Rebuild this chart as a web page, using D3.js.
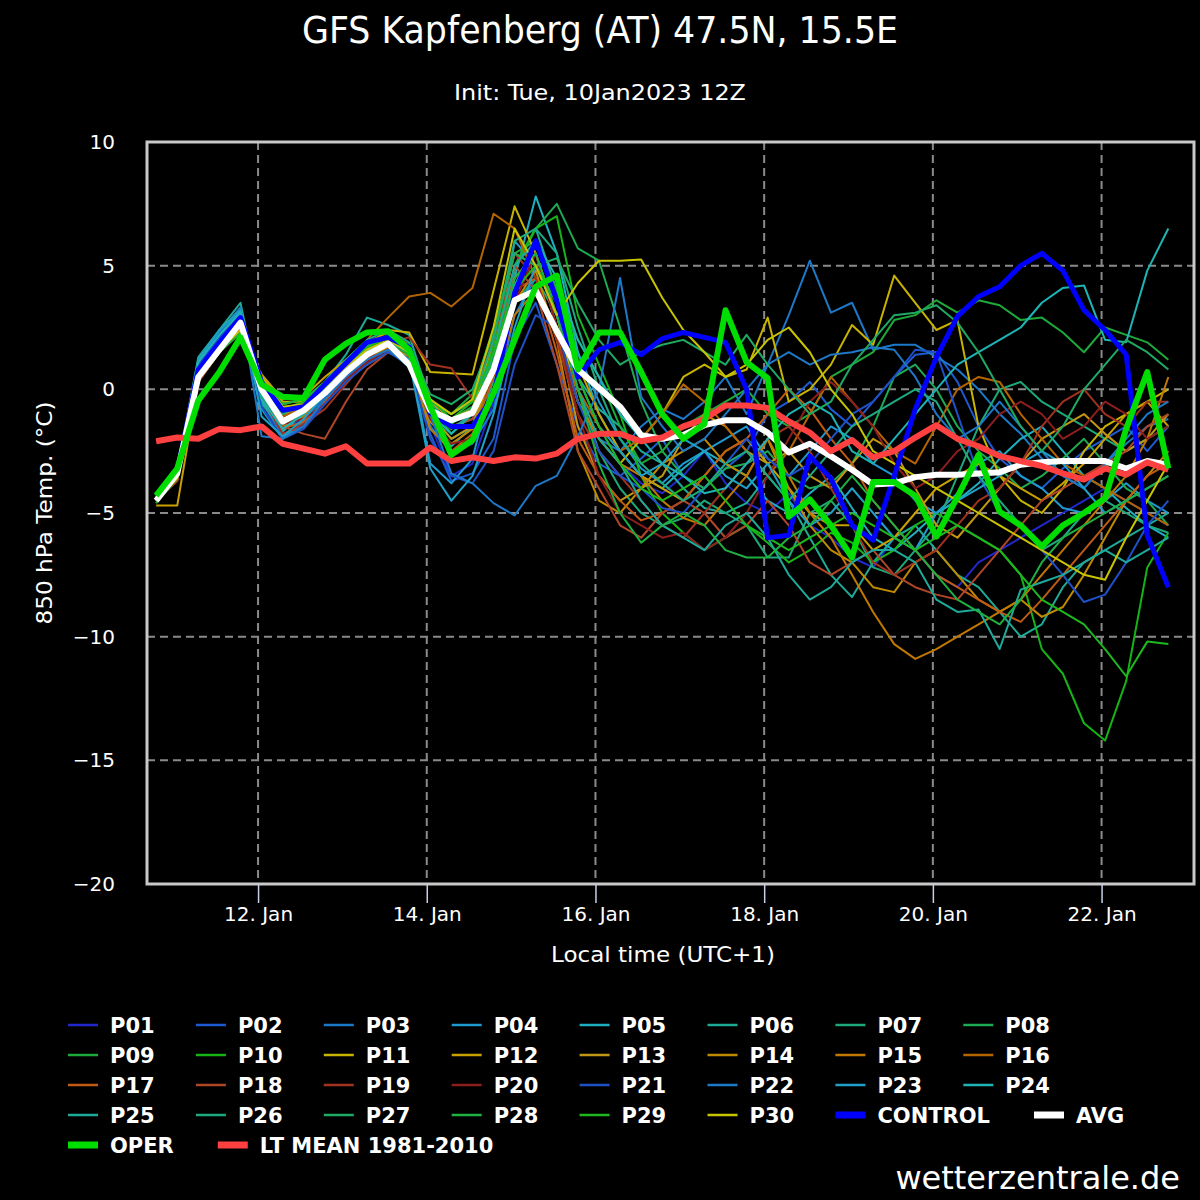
<!DOCTYPE html>
<html>
<head>
<meta charset="utf-8">
<script src="https://d3js.org/d3.v7.min.js"></script>
<style>
  body { margin: 0; background: #000; }
  text { font-family: "DejaVu Sans", sans-serif; fill: #fff; }
</style>
</head>
<body>
<svg id="chart" width="1200" height="1200"></svg>
<script>
// 6-hourly steps, first value 10 Jan 19:00 local (init 12Z + 6h)
const startLocal = Date.UTC(2023, 0, 10, 19);
const stepHours = 6;
const tickDays = [12, 14, 16, 18, 20, 22];
const yTicks = [-20, -15, -10, -5, 0, 5, 10];

const ltMean = [-2.1,-1.95,-2.0,-1.6,-1.65,-1.5,-2.2,-2.4,-2.6,-2.3,-3.0,-3.0,-3.0,-2.35,-2.9,-2.75,-2.9,-2.75,-2.8,-2.6,-2.0,-1.8,-1.8,-2.1,-1.95,-1.5,-1.2,-0.65,-0.65,-0.75,-1.3,-1.75,-2.5,-2.05,-2.75,-2.5,-1.95,-1.45,-2.0,-2.3,-2.7,-2.9,-3.1,-3.4,-3.65,-3.2,-3.45,-2.95,-3.25];
const avg = [-4.5,-3.4,0.5,1.6,2.7,0.0,-1.3,-0.85,-0.15,0.7,1.4,1.85,1.0,-0.85,-1.25,-0.95,0.8,3.6,4.0,2.35,0.8,0.05,-0.7,-1.85,-2.0,-1.85,-1.45,-1.25,-1.25,-1.75,-2.55,-2.2,-2.7,-3.25,-3.85,-3.8,-3.55,-3.45,-3.45,-3.4,-3.35,-3.05,-2.95,-2.9,-2.9,-2.9,-3.2,-2.9,-3.05];
const control = [-4.3,-3.3,0.8,1.9,2.9,0.3,-0.85,-0.7,0.2,1.05,1.9,2.1,1.7,-0.95,-1.5,-1.5,-0.3,3.9,6.0,3.6,0.5,1.6,1.9,1.4,2.05,2.3,2.1,1.9,0.0,-6.0,-5.9,-2.7,-3.6,-5.5,-6.1,-3.5,-0.8,1.3,2.95,3.75,4.15,5.0,5.5,4.8,3.2,2.4,1.4,-5.9,-8.0];
const oper = [-4.3,-3.2,-0.45,0.7,2.1,0.2,-0.3,-0.35,1.2,1.85,2.3,2.35,1.6,-0.7,-2.65,-2.05,-0.15,2.0,4.15,4.6,0.8,2.3,2.3,0.7,-1.0,-2.0,-1.4,3.2,1.1,0.45,-5.15,-4.45,-5.5,-6.8,-3.75,-3.75,-4.3,-5.95,-4.35,-2.65,-4.95,-5.5,-6.35,-5.5,-5.0,-4.4,-1.6,0.7,-3.2];

const p01 = [-4.4,-3.4,1.0,2.0,3.0,-0.1,-1.6,-1.2,-0.2,0.8,1.5,2.0,1.4,-1.4,-3.5,-3.0,-0.5,4.0,5.5,2.5,0.5,-1.5,-3.0,-3.8,-4.2,-3.5,-2.5,-3.8,-4.6,-5.0,-4.2,-5.5,-6.0,-6.8,-7.2,-6.0,-6.5,-7.5,-8.0,-7.0,-6.5,-6.0,-5.5,-5.0,-4.5,-4.0,-4.5,-5.0,-5.5];
const p02 = [-4.5,-3.6,0.9,2.1,3.1,-0.3,-1.8,-1.5,-0.5,0.5,1.2,1.6,1.0,-1.8,-3.7,-3.4,-2.0,2.0,3.5,1.0,-1.5,-3.0,-3.5,-2.8,-2.0,-3.5,-4.0,-3.2,-2.5,-1.0,-0.5,0.3,-0.8,-1.5,-0.5,0.5,1.4,1.5,0.3,-1.5,-2.8,-3.5,-4.0,-3.2,-2.5,-2.0,-1.5,-2.5,-1.5];
const p03 = [-4.4,-3.5,1.1,2.2,3.2,-0.5,-1.9,-1.4,-0.3,0.6,1.3,1.8,1.2,-1.5,-2.5,-2.2,-0.8,3.0,4.5,2.0,-0.5,-2.0,-2.5,-1.5,-0.8,-1.2,-0.5,0.5,-1.0,1.0,3.0,5.2,3.1,3.5,1.6,1.8,1.8,1.3,0.8,0.0,-1.0,-1.8,-2.8,-3.5,-4.0,-3.0,-2.2,-1.5,-1.2];
const p04 = [-4.3,-3.3,1.2,2.3,3.3,-0.8,-2.0,-1.3,-0.1,1.0,1.6,1.9,1.5,-3.0,-3.8,-2.8,0.5,6.0,5.0,3.5,1.5,-0.5,-2.0,-3.2,-3.8,-3.0,-2.5,-2.0,-1.5,-2.8,-3.5,-2.5,-1.5,-2.0,-3.0,-3.5,-4.5,-5.0,-4.2,-3.0,-2.5,-3.5,-4.0,-4.8,-5.0,-4.5,-3.8,-4.5,-5.0];
const p05 = [-4.4,-3.4,1.0,2.2,3.1,-0.5,-1.7,-1.0,0.0,0.8,1.5,1.9,1.5,-1.6,-2.3,-1.5,1.5,4.5,7.8,5.5,1.5,-1.0,-2.5,-3.5,-4.0,-3.2,-2.5,-3.0,-3.5,-4.5,-5.0,-4.2,-3.5,-4.8,-6.0,-6.5,-5.8,-5.0,-4.5,-3.8,-2.8,-2.0,-1.5,-2.5,-3.5,-4.0,-4.8,-5.5,-6.0];
const p06 = [-4.3,-3.2,1.3,2.4,3.5,-0.6,-1.5,-0.8,0.3,1.4,2.9,2.6,2.2,-0.5,-1.5,-1.2,1.0,4.8,6.5,4.0,0.5,-0.8,-1.5,-2.5,-3.0,-4.0,-4.8,-5.0,-4.6,-3.5,-4.5,-6.0,-7.5,-8.4,-7.0,-6.0,-5.5,-6.5,-7.5,-8.0,-9.0,-10.0,-9.5,-8.0,-7.0,-6.5,-6.0,-5.5,-5.0];
const p07 = [-4.5,-3.5,0.8,2.0,3.0,-0.1,-1.4,-1.0,-0.2,0.6,1.3,1.6,1.3,-1.0,-2.0,-1.5,0.3,3.5,4.5,3.0,0.0,-2.5,-4.0,-5.0,-5.5,-5.2,-4.5,-5.0,-5.5,-6.8,-6.8,-5.0,-4.5,-5.5,-7.2,-7.5,-6.5,-5.5,-3.5,-1.5,0.0,0.3,-0.5,-1.0,-1.5,-2.0,-2.5,-2.0,-1.5];
const p08 = [-4.4,-3.4,0.7,1.9,3.0,0.1,-1.3,-0.9,0.0,0.8,1.4,1.8,1.3,-0.8,-1.2,-0.7,1.0,5.0,6.5,7.5,5.7,5.2,2.5,-0.5,-2.5,-3.5,-4.0,-3.2,-3.0,-2.5,-3.5,-4.0,-3.8,-3.0,-1.5,0.5,1.0,0.0,-1.5,-2.5,-3.2,-4.0,-3.5,-2.8,-2.0,-3.0,-4.0,-4.5,-5.5];
const p09 = [-4.6,-3.5,0.5,1.7,2.6,0.3,-0.9,-0.6,0.1,0.9,1.6,2.0,1.6,-0.5,-1.0,-0.2,2.5,5.5,6.0,4.0,2.0,0.5,-1.5,-3.0,-2.5,-1.5,-1.0,-0.5,0.0,-1.0,-1.5,-1.0,0.5,1.0,1.5,2.8,3.0,3.6,3.1,3.6,3.4,2.8,2.9,2.3,1.5,2.5,2.2,1.9,1.2];
const p10 = [-4.5,-3.6,0.4,1.6,2.4,0.4,-0.6,-0.4,0.3,1.0,1.7,2.1,1.5,-0.6,-1.8,-1.0,1.8,5.0,6.5,7.0,3.0,1.0,-1.0,-3.5,-5.0,-5.8,-6.5,-6.0,-5.5,-6.2,-7.0,-6.5,-5.8,-6.2,-7.0,-6.5,-5.5,-5.0,-5.5,-6.0,-6.5,-7.5,-10.5,-11.5,-13.5,-14.2,-11.8,-7.2,-5.8];
const p11 = [-4.5,-3.6,0.6,1.7,2.5,0.5,-0.5,-0.5,0.2,1.0,1.8,2.4,2.3,0.7,0.65,0.6,4.0,7.4,5.5,3.0,-0.5,-2.0,-3.0,-2.0,-1.0,0.5,1.0,0.5,0.8,2.9,-0.5,0.0,1.0,2.6,1.8,4.6,3.5,2.4,2.8,-1.5,-3.5,-4.5,-5.0,-4.0,-2.5,-1.5,-1.0,-0.5,0.0];
const p12 = [-4.7,-4.7,0.3,1.5,2.3,0.6,-0.4,-0.3,0.5,1.2,1.9,2.3,1.8,-0.5,-1.2,-0.8,2.0,5.5,5.0,3.5,1.0,-1.0,-2.5,-3.5,-4.0,-4.5,-3.5,-2.5,-2.0,-3.0,-4.0,-5.0,-5.5,-5.5,-6.5,-6.0,-5.0,-4.0,-3.5,-3.0,-3.5,-4.0,-4.5,-3.8,-3.0,-2.0,-1.0,-0.5,-1.5];
const p13 = [-4.4,-3.6,0.5,1.6,2.5,0.2,-1.0,-0.8,0.0,0.8,1.4,1.8,1.3,-1.0,-2.0,-1.5,1.0,4.5,5.5,2.5,-1.5,-3.5,-4.5,-4.0,-3.5,-2.0,-1.0,-1.5,-2.5,-3.0,-2.5,-3.5,-4.0,-3.0,-2.0,-2.5,-4.0,-5.5,-6.0,-5.0,-4.0,-3.0,-2.0,-1.5,-1.0,-1.8,-2.5,-2.0,-1.0];
const p14 = [-4.5,-3.5,0.6,1.8,2.7,0.0,-1.2,-0.9,0.0,0.7,1.3,1.7,1.2,-1.3,-2.2,-1.6,0.8,3.5,4.8,2.0,-2.5,-4.5,-5.0,-4.0,-3.0,-2.5,-2.0,-3.0,-3.5,-2.0,-4.0,-5.5,-6.5,-7.0,-8.0,-8.2,-7.0,-6.5,-7.5,-8.5,-9.0,-8.5,-9.2,-8.8,-7.5,-6.0,-4.5,-3.5,-2.5];
const p15 = [-4.4,-3.5,0.7,1.9,2.8,-0.2,-1.5,-1.1,-0.1,0.6,1.2,1.6,1.0,-1.6,-2.5,-2.0,0.0,3.0,4.0,2.5,-0.5,-2.0,-3.0,-3.5,-4.5,-5.2,-5.5,-4.5,-3.5,-2.0,-3.5,-5.0,-6.0,-7.5,-9.0,-10.3,-10.9,-10.5,-10.0,-9.5,-9.0,-8.5,-7.5,-6.5,-5.5,-4.5,-3.5,-2.0,0.5];
const p16 = [-4.5,-3.7,0.4,1.6,2.4,0.1,-1.1,-0.7,0.3,1.0,2.0,2.9,3.75,3.9,3.35,4.1,7.1,6.5,4.5,2.0,0.0,-1.5,-2.5,-2.0,-1.0,0.2,-0.5,-1.5,-2.5,-3.5,-2.5,-1.0,0.5,-0.5,-1.5,-2.5,-3.0,-1.5,0.0,0.5,0.3,-1.0,-2.0,-3.0,-3.5,-4.0,-4.5,-5.0,-5.5];
const p17 = [-4.4,-3.6,0.5,1.7,2.6,-0.1,-1.6,-1.3,-0.5,0.4,1.0,1.5,1.1,-1.2,-2.5,-1.8,0.5,4.0,4.5,1.5,-2.0,-3.5,-4.5,-5.3,-5.0,-4.5,-3.5,-2.5,-2.0,-1.0,0.0,-0.8,-2.0,-3.0,-4.5,-5.5,-6.5,-7.5,-8.0,-8.5,-9.0,-9.4,-8.5,-7.5,-6.5,-5.5,-4.5,-3.5,-3.0];
const p18 = [-4.5,-3.7,0.3,1.5,2.3,0.2,-1.5,-1.8,-2.0,-0.5,0.8,1.5,1.3,-0.8,-1.5,-1.2,1.0,5.0,4.0,1.0,-2.5,-4.0,-5.5,-6.0,-5.0,-4.5,-5.0,-6.0,-5.5,-4.5,-5.5,-7.0,-7.5,-7.0,-6.5,-7.5,-8.0,-8.3,-8.5,-7.5,-6.5,-5.5,-4.5,-4.0,-3.5,-3.0,-2.5,-1.5,-1.0];
const p19 = [-4.4,-3.5,0.6,1.8,2.7,-0.3,-1.8,-1.4,-0.8,0.2,1.2,1.9,2.1,1.0,0.85,-0.4,2.0,5.5,4.5,2.0,-1.0,-2.5,-3.5,-4.5,-5.5,-6.0,-5.0,-4.0,-3.0,-2.0,-1.5,-2.5,-4.0,-5.5,-7.0,-7.5,-7.0,-6.5,-5.5,-4.5,-4.0,-3.0,-1.5,-0.5,0.0,-1.0,-1.5,-0.5,-0.5];
const p20 = [-4.5,-3.6,0.5,1.6,2.5,0.0,-1.4,-1.2,-0.6,0.4,1.1,1.6,1.1,-1.2,-2.2,-2.0,0.0,3.5,5.5,2.5,-1.0,-3.5,-5.0,-5.5,-6.0,-5.8,-6.5,-6.0,-5.0,-3.5,-2.0,-0.5,0.3,-0.5,-1.5,-3.0,-4.0,-3.5,-2.5,-2.0,-1.0,-0.5,-1.0,-2.0,-1.5,-0.5,-1.0,-2.0,-1.5];
const p21 = [-4.4,-3.4,1.0,2.1,3.0,-0.7,-2.0,-1.6,-0.6,0.3,1.0,1.5,1.0,-2.0,-3.5,-3.8,-2.5,1.0,3.0,2.5,-0.5,-2.5,-3.5,-4.0,-4.8,-5.0,-4.0,-3.0,-2.0,-2.8,-3.5,-3.0,-2.0,-1.0,-0.5,0.5,1.6,1.5,-1.0,-3.5,-5.0,-5.5,-6.5,-7.5,-8.6,-8.3,-7.0,-5.5,-4.5];
const p22 = [-4.4,-3.3,1.1,2.3,3.3,-1.9,-2.0,-1.5,-0.4,0.5,1.2,1.6,0.9,-1.0,-3.4,-3.8,-4.6,-5.1,-3.9,-3.5,-1.9,0.0,4.5,-0.3,-1.5,-2.5,-2.0,-1.0,0.0,1.0,1.5,1.0,1.4,1.5,1.7,1.6,0.5,-1.0,-2.0,-1.5,-0.5,-1.5,-2.5,-3.5,-4.0,-3.0,-2.0,-1.0,-0.5];
const p23 = [-4.3,-3.4,1.2,2.4,3.2,-1.1,-1.9,-1.2,-0.2,0.7,1.4,1.8,1.2,-3.2,-4.5,-3.5,-1.0,2.5,5.0,3.0,0.5,-1.5,-2.5,-3.5,-3.0,-2.0,-2.5,-3.5,-4.0,-3.0,-4.5,-5.5,-5.0,-4.0,-5.0,-6.0,-6.5,-5.0,-4.5,-4.0,-3.5,-3.0,-2.5,-3.0,-4.0,-5.0,-4.5,-4.0,-3.5];
const p24 = [-4.4,-3.4,1.1,2.2,3.1,-0.4,-1.6,-1.0,0.0,0.9,1.5,2.0,1.4,-1.0,-1.8,-1.0,0.8,4.2,6.0,4.5,2.0,0.5,-1.0,-2.0,-3.0,-3.5,-4.2,-4.0,-3.0,-2.0,-1.0,-0.5,-1.0,-2.5,-3.0,-2.0,-1.0,0.0,1.0,1.5,2.0,2.5,3.5,4.1,4.2,2.0,1.9,4.8,6.5];
const p25 = [-4.5,-3.5,0.8,2.0,2.9,-0.2,-1.3,-0.7,0.1,1.1,1.8,2.1,1.7,-0.8,-1.6,-1.0,1.5,5.0,6.0,3.5,0.0,-2.0,-3.0,-4.5,-5.5,-6.0,-6.5,-5.5,-5.0,-6.0,-7.5,-8.5,-8.0,-7.0,-6.5,-6.5,-7.0,-8.5,-9.0,-8.9,-10.5,-8.1,-7.8,-7.5,-7.0,-6.5,-7.0,-6.5,-6.0];
const p26 = [-4.4,-3.4,0.9,2.0,2.9,-0.3,-1.4,-0.8,0.2,1.2,2.0,2.4,1.9,-0.5,-1.0,-0.5,2.0,6.0,6.5,5.5,2.5,0.0,-2.0,-3.0,-3.8,-4.5,-4.0,-3.0,-2.5,-3.5,-4.5,-3.5,-2.5,-1.5,-1.0,-0.5,0.0,-0.5,-2.0,-3.5,-4.5,-5.5,-6.5,-6.0,-5.0,-4.5,-5.0,-5.5,-5.8];
const p27 = [-4.5,-3.5,0.7,1.9,2.8,0.2,-1.0,-0.6,0.2,1.0,1.7,2.2,1.8,-0.2,-0.6,0.0,2.2,5.5,5.0,5.3,3.5,2.0,1.0,1.5,1.8,2.0,1.5,1.0,2.2,1.0,0.0,-1.0,-0.5,1.0,2.0,3.0,3.1,3.4,2.7,1.5,0.0,-1.5,-2.5,-1.5,0.0,1.0,2.0,1.5,0.8];
const p28 = [-4.6,-3.6,0.4,1.5,2.3,0.4,-0.6,-0.4,0.3,1.0,1.6,1.9,1.4,-0.7,-1.4,-0.8,1.2,4.5,5.5,3.0,0.0,-3.0,-5.0,-6.2,-5.5,-5.0,-5.5,-6.5,-6.8,-6.8,-6.0,-5.5,-4.5,-3.5,-4.5,-5.5,-6.5,-7.5,-8.5,-9.0,-9.5,-8.5,-7.0,-6.0,-5.5,-5.0,-4.5,-4.0,-3.5];
const p29 = [-4.5,-3.5,0.6,1.8,2.7,0.3,-0.8,-0.5,0.2,1.0,1.7,2.1,1.6,-0.4,-1.2,-0.5,1.5,4.0,5.0,3.5,0.5,-1.5,-3.0,-4.0,-4.5,-4.0,-3.5,-4.5,-5.5,-6.0,-6.5,-6.0,-5.5,-5.0,-5.5,-6.0,-6.5,-6.0,-5.5,-6.0,-6.5,-7.5,-8.5,-9.0,-9.5,-10.5,-11.6,-10.2,-10.3];
const p30 = [-4.5,-3.6,0.5,1.6,2.4,0.4,-0.7,-0.6,0.1,0.9,1.6,2.0,1.5,-0.4,-1.0,-0.4,2.5,6.5,5.0,3.0,4.3,5.2,5.2,5.25,3.7,2.4,1.5,0.5,1.0,2.0,2.5,1.5,0.0,-1.0,-2.5,-3.0,-3.5,-4.0,-4.5,-5.0,-5.5,-6.0,-6.5,-7.0,-7.5,-7.7,-6.0,-4.5,-3.0];

const members = [p01,p02,p03,p04,p05,p06,p07,p08,p09,p10,p11,p12,p13,p14,p15,p16,p17,p18,p19,p20,p21,p22,p23,p24,p25,p26,p27,p28,p29,p30];
const memberNames = members.map((d, i) => "P" + String(i + 1).padStart(2, "0"));
const memberColors = ["#2228cc","#1e5ad2","#1e78c8","#1e9ad0","#1eb0c0","#1eaa96","#1ea878","#1eaa52","#1eaa3a","#16b416",
                      "#c8b400","#c8a000","#c09614","#c08a00","#c07800","#b46400","#c05a14","#b04628","#a0321e","#8c1e1e",
                      "#1e50c8","#1e78c8","#1ea0c8","#1eb4b4","#1eaa9a","#1eaa80","#1eaa64","#1eb040","#1eb81e","#c8c400"];

const svg = d3.select("#chart");
svg.append("rect").attr("width", 1200).attr("height", 1200).attr("fill", "#000");

const x = d3.scaleUtc()
    .domain([new Date(Date.UTC(2023,0,12) - 31.6*36e5), new Date(Date.UTC(2023,0,12) + 266.3*36e5)])
    .range([147, 1194]);
const y = d3.scaleLinear().domain([-20, 10]).range([884, 142]);
const times = ltMean.map((d, i) => new Date(startLocal + i*stepHours*36e5));
const tickDates = tickDays.map(d => new Date(Date.UTC(2023, 0, d)));

// grid
const grid = svg.append("g");
grid.selectAll("line.gy").data(yTicks.slice(1, -1)).join("line")
    .attr("x1", 147).attr("x2", 1194).attr("y1", d => y(d)).attr("y2", d => y(d));
grid.selectAll("line.gx").data(tickDates).join("line")
    .attr("x1", d => x(d)).attr("x2", d => x(d)).attr("y1", 142).attr("y2", 884);
grid.selectAll("line").attr("stroke", "#8a8a8a").attr("stroke-width", 2).attr("stroke-dasharray", "8,5");

// lines
const line = d3.line().x((d, i) => x(times[i])).y(d => y(d));
const plot = svg.append("g");
plot.selectAll("path.member").data(members).join("path")
    .attr("class", "member")
    .attr("d", line)
    .attr("fill", "none")
    .attr("stroke", (d, i) => memberColors[i])
    .attr("stroke-width", 2)
    .attr("stroke-linejoin", "round");

const mainLines = [
  {v: control, c: "#0000ff", w: 5},
  {v: avg, c: "#ffffff", w: 6},
  {v: ltMean, c: "#ff4040", w: 6},
  {v: oper, c: "#00dd00", w: 6}
];
mainLines.forEach(m => {
  plot.append("path").attr("d", line(m.v)).attr("fill", "none")
      .attr("stroke", m.c).attr("stroke-width", m.w).attr("stroke-linejoin", "round");
});

// frame
svg.append("rect").attr("x", 147).attr("y", 142).attr("width", 1047).attr("height", 742)
    .attr("fill", "none").attr("stroke", "#c8c8c8").attr("stroke-width", 3);

// axes
const yAxis = svg.append("g").attr("transform", "translate(147,0)")
    .call(d3.axisLeft(y).tickValues(yTicks).tickSize(0).tickPadding(32));
const xAxis = svg.append("g").attr("transform", "translate(0,884)")
    .call(d3.axisBottom(x).tickValues(tickDates).tickSize(19).tickPadding(4).tickFormat(d3.utcFormat("%d. %b")));
[yAxis, xAxis].forEach(a => {
  a.select(".domain").remove();
  a.selectAll("text").attr("fill", "#fff").style("font-size", "20px").style("font-family", "'DejaVu Sans', sans-serif");
});
xAxis.selectAll(".tick line").attr("stroke", "#c8d0e8").attr("stroke-width", 1.5);
yAxis.selectAll("text").text(d => d < 0 ? "\u2212" + Math.abs(d) : String(d));

// titles
svg.append("text").attr("x", 600).attr("y", 43).attr("text-anchor", "middle")
    .attr("textLength", 596).attr("lengthAdjust", "spacingAndGlyphs")
    .style("font-size", "37px").style("font-family", "'DejaVu Sans Condensed', 'DejaVu Sans', sans-serif")
    .text("GFS Kapfenberg (AT) 47.5N, 15.5E");
svg.append("text").attr("x", 600).attr("y", 100).attr("text-anchor", "middle")
    .attr("textLength", 292).attr("lengthAdjust", "spacingAndGlyphs")
    .style("font-size", "22px").style("font-family", "'DejaVu Sans Condensed', 'DejaVu Sans', sans-serif")
    .text("Init: Tue, 10Jan2023 12Z");
svg.append("text").attr("x", 663).attr("y", 962).attr("text-anchor", "middle")
    .attr("textLength", 224).attr("lengthAdjust", "spacingAndGlyphs")
    .style("font-size", "22px").text("Local time (UTC+1)");
svg.append("text").attr("transform", "translate(52,513) rotate(-90)").attr("text-anchor", "middle")
    .attr("textLength", 223).attr("lengthAdjust", "spacingAndGlyphs")
    .style("font-size", "22px").text("850 hPa Temp. (°C)");
svg.append("text").attr("x", 1180).attr("y", 1189).attr("text-anchor", "end")
    .style("font-size", "32px").text("wetterzentrale.de");

// legend
const legendItems = memberNames.map((n, i) => ({name: n, c: memberColors[i], w: 2.5}))
  .concat([
    {name: "CONTROL", c: "#0000ff", w: 7},
    {name: "AVG", c: "#ffffff", w: 7},
    {name: "OPER", c: "#00dd00", w: 7},
    {name: "LT MEAN 1981-2010", c: "#ff4040", w: 7}
  ]);
const legend = svg.append("g");
let lx = 68, ly = 1025;
legendItems.forEach(it => {
  const g = legend.append("g");
  const t = g.append("text").attr("x", 42).attr("y", 8)
      .style("font-size", "21px").style("font-weight", "bold").text(it.name);
  const tw = t.node().getComputedTextLength();
  const adv = tw > 55 ? 42 + tw + 44 : 127.9;
  if (lx + adv > 1180) { lx = 68; ly += 30; }
  g.attr("transform", `translate(${lx},${ly})`);
  g.append("line").attr("x1", 0).attr("x2", 30).attr("y1", 0).attr("y2", 0)
      .attr("stroke", it.c).attr("stroke-width", it.w);
  lx += adv;
});
</script>
</body>
</html>
